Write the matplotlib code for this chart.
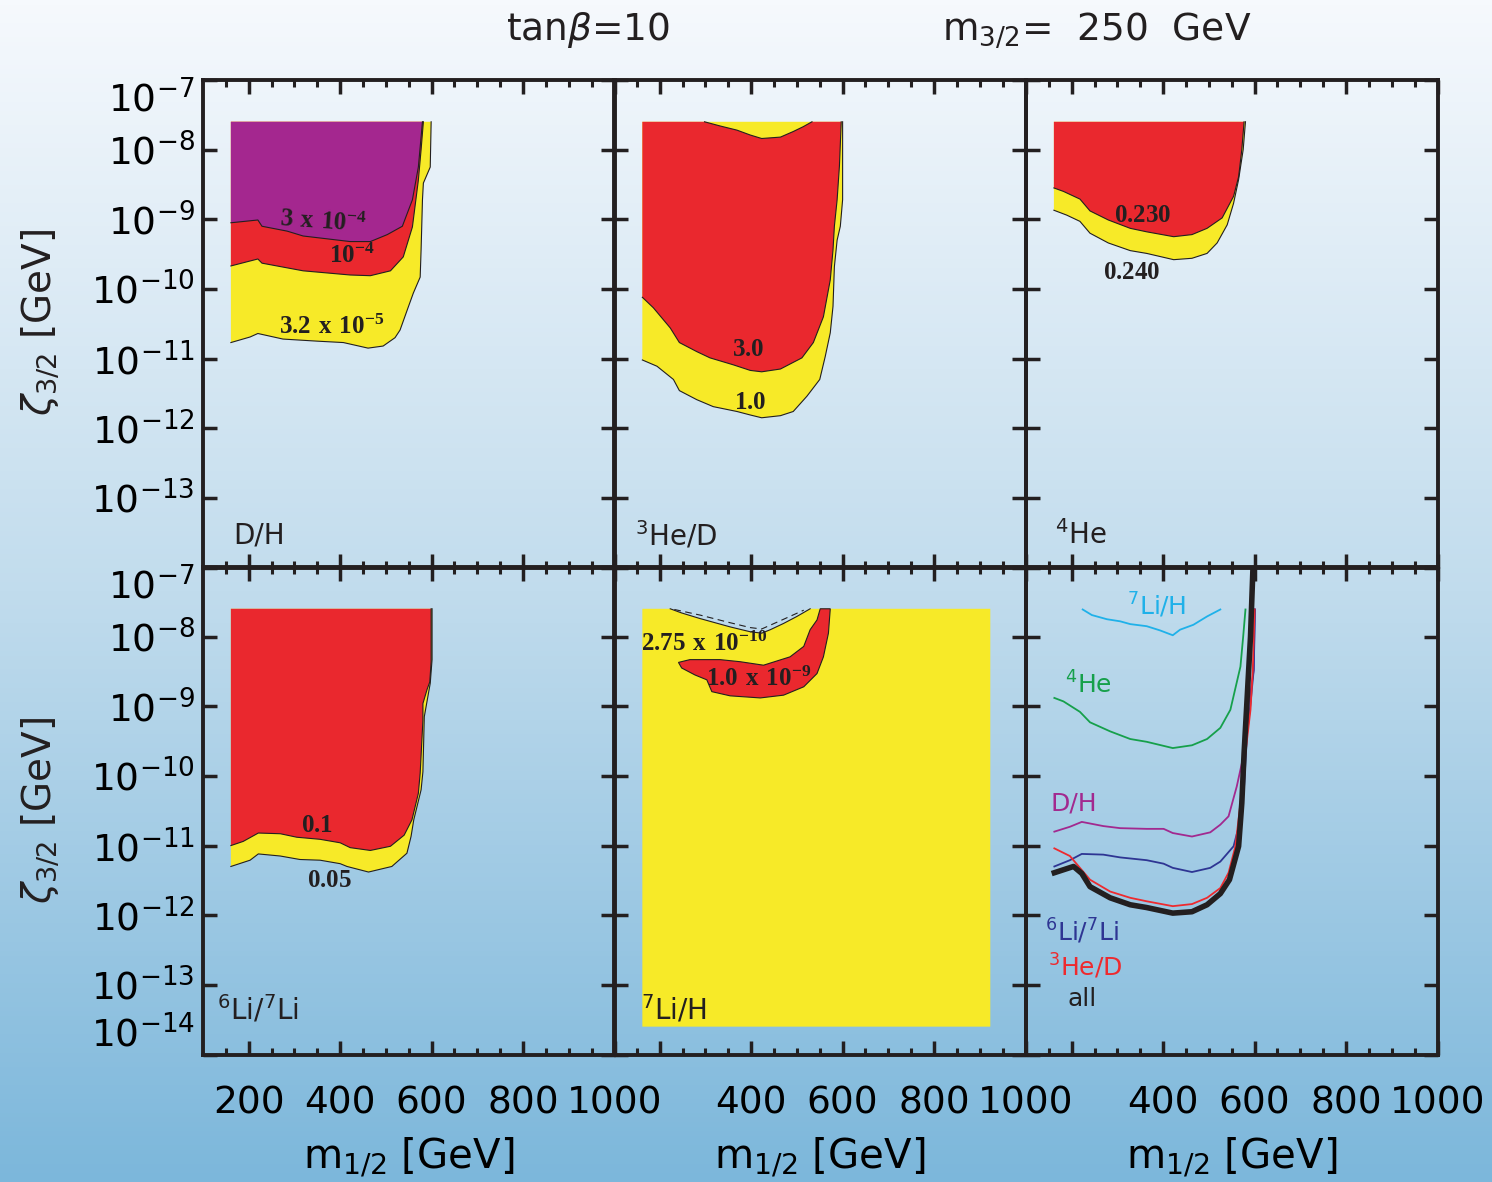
import numpy as np
import matplotlib.pyplot as plt
from matplotlib.colors import LinearSegmentedColormap

plt.rcParams['font.family'] = 'DejaVu Sans'
plt.rcParams['mathtext.fontset'] = 'custom'
plt.rcParams['mathtext.rm'] = 'DejaVu Sans'
plt.rcParams['mathtext.it'] = 'DejaVu Sans:italic'
plt.rcParams['mathtext.bf'] = 'Liberation Serif:bold'

PURPLE = '#a4278f'
RED = '#ea282e'
YELLOW = '#f7ea28'
INK = '#231f20'

# top edge of the scanned grid (log10 zeta)
ZTOP = -7.6

# ---- D/H (top left): log10(zeta) of the contour, above which it is excluded
dh_purple_x = [161, 220, 229, 284, 319, 422, 466, 503, 536, 558, 571, 580]
dh_purple_lz = [-9.05, -9.01, -9.10, -9.17, -9.24, -9.32, -9.32, -9.22, -9.10, -8.72, -8.25, -7.6]
dh_red_x = [161, 220, 229, 319, 422, 466, 510, 538, 558, 571, 577, 582]
dh_red_lz = [-9.67, -9.57, -9.63, -9.74, -9.80, -9.81, -9.74, -9.54, -9.11, -8.44, -8.00, -7.6]
dh_yel_x = [161, 203, 220, 275, 350, 407, 461, 494, 520, 531, 549, 560, 575, 577, 580, 582, 597, 599]
dh_yel_lz = [-10.77, -10.69, -10.64, -10.72, -10.75, -10.77, -10.85, -10.82, -10.70, -10.59,
             -10.26, -10.06, -9.83, -9.44, -8.72, -8.48, -8.25, -7.6]

# ---- 3He/D (top middle)
he3_red_x = [162, 186, 223, 243, 281, 310, 361, 398, 423, 464, 511, 536, 558, 573, 579, 582, 588, 593, 597]
he3_red_lz = [-10.12, -10.27, -10.56, -10.77, -10.90, -10.99, -11.09, -11.17, -11.19, -11.15,
              -10.99, -10.77, -10.40, -9.87, -9.44, -9.10, -8.72, -8.24, -7.6]
he3_notch_x = [298, 332, 369, 398, 423, 464, 492, 514, 533]
he3_notch_lz = [-7.6, -7.66, -7.72, -7.79, -7.84, -7.82, -7.74, -7.67, -7.6]
he3_yel_x = [162, 194, 230, 243, 281, 317, 369, 398, 423, 464, 492, 522, 550, 562, 573, 579, 582, 588,
             595, 600, 600]
he3_yel_lz = [-11.02, -11.11, -11.30, -11.46, -11.59, -11.69, -11.76, -11.81, -11.85, -11.82, -11.76,
              -11.54, -11.30, -10.97, -10.63, -10.25, -9.68, -9.30, -9.10, -8.72, -7.6]

# ---- 4He (top right)
he4_red_x = [161, 182, 218, 240, 280, 328, 364, 423, 463, 496, 529, 554, 565, 572, 577]
he4_red_lz = [-8.55, -8.60, -8.71, -8.88, -9.01, -9.13, -9.18, -9.25, -9.22, -9.13, -8.98, -8.67,
              -8.39, -8.00, -7.6]
he4_yel_x = [161, 189, 218, 240, 280, 328, 364, 423, 463, 496, 518, 540, 554, 565, 575, 580]
he4_yel_lz = [-8.87, -8.94, -9.03, -9.20, -9.34, -9.45, -9.49, -9.58, -9.56, -9.49, -9.34, -9.08,
              -8.77, -8.43, -8.00, -7.6]

# ---- 6Li/7Li (bottom left)
li6_red_x = [161, 188, 221, 269, 305, 356, 400, 422, 466, 510, 540, 557, 571, 575, 581, 581, 590, 596, 599, 599]
li6_red_lz = [-11.00, -10.94, -10.82, -10.83, -10.88, -10.91, -10.96, -11.03, -11.07, -11.01, -10.85,
              -10.63, -10.25, -9.96, -9.20, -8.96, -8.76, -8.65, -8.36, -7.6]
li6_yel_x = [161, 203, 221, 269, 312, 356, 400, 415, 462, 513, 546, 555, 561, 577, 581, 584, 597, 601, 601]
li6_yel_lz = [-11.30, -11.21, -11.12, -11.15, -11.20, -11.21, -11.26, -11.30, -11.38, -11.30, -11.11,
              -10.87, -10.63, -10.20, -9.94, -9.15, -8.67, -8.33, -7.6]

# ---- 7Li/H (bottom middle)
li7_grid_x = [162, 923]
li7_grid_lz = [-13.6, ZTOP]
li7_notch_x = [223, 248, 288, 310, 354, 398, 423, 442, 471, 500, 529]
li7_notch_lz = [-7.6, -7.66, -7.74, -7.78, -7.86, -7.93, -7.95, -7.90, -7.81, -7.71, -7.6]
li7_dash_x = [232, 288, 354, 398, 423, 471, 515]
li7_dash_lz = [-7.61, -7.69, -7.80, -7.87, -7.89, -7.75, -7.62]
li7_red_x = [551, 544, 529, 515, 485, 427, 376, 332, 266, 241, 248, 277, 303, 314, 354, 420, 471, 515,
             544, 558, 569, 573]
li7_red_lz = [-7.6, -7.76, -7.90, -8.14, -8.29, -8.41, -8.36, -8.33, -8.33, -8.37, -8.45, -8.55, -8.62,
              -8.79, -8.85, -8.88, -8.84, -8.72, -8.53, -8.29, -7.95, -7.6]

# ---- summary (bottom right): limits from each element
sum_li7h_x = [224, 244, 277, 306, 328, 364, 393, 421, 437, 466, 496, 525]
sum_li7h_lz = [-7.61, -7.69, -7.75, -7.78, -7.82, -7.85, -7.91, -7.98, -7.90, -7.83, -7.71, -7.61]
sum_he4_x = [162, 182, 218, 240, 284, 328, 364, 421, 463, 496, 525, 547, 569, 575, 580]
sum_he4_lz = [-8.88, -8.93, -9.08, -9.23, -9.36, -9.47, -9.51, -9.60, -9.56, -9.47, -9.31, -9.05,
              -8.43, -8.00, -7.61]
sum_dh_x = [162, 196, 222, 269, 306, 364, 401, 421, 463, 503, 525, 543, 561, 569, 577, 582, 598, 600]
sum_dh_lz = [-10.80, -10.73, -10.66, -10.72, -10.75, -10.76, -10.76, -10.82, -10.87, -10.81, -10.70,
             -10.58, -10.15, -9.91, -9.67, -9.20, -8.48, -7.61]
sum_li6_x = [162, 196, 222, 269, 306, 364, 401, 421, 463, 503, 525, 554, 569, 577, 583, 591, 598, 601]
sum_li6_lz = [-11.30, -11.21, -11.12, -11.13, -11.17, -11.21, -11.26, -11.32, -11.38, -11.32, -11.23,
              -11.01, -10.63, -10.15, -9.43, -8.96, -8.48, -7.61]
sum_he3_x = [162, 196, 240, 284, 328, 364, 421, 463, 496, 525, 543, 558, 569, 580, 591, 596, 600]
sum_he3_lz = [-11.04, -11.15, -11.49, -11.66, -11.75, -11.80, -11.87, -11.84, -11.75, -11.61, -11.39,
              -11.01, -10.39, -9.67, -9.05, -8.48, -7.61]
sum_all_x = [162, 204, 222, 240, 284, 328, 364, 421, 463, 496, 525, 545, 565, 572, 577, 583, 591, 597]
sum_all_lz = [-11.39, -11.30, -11.40, -11.59, -11.75, -11.85, -11.89, -11.97, -11.95, -11.85, -11.69,
              -11.49, -11.01, -10.39, -9.67, -8.96, -8.00, -6.9]

xticks = [200, 400, 600, 800, 1000]
yexps = [-7, -8, -9, -10, -11, -12, -13, -14]

W, H = 1492, 1182
fig = plt.figure(figsize=(W / 100, H / 100), dpi=100)

# background gradient
bg = fig.add_axes([0, 0, 1, 1], zorder=-10)
cmap = LinearSegmentedColormap.from_list('bg', ['#f6f9fd', '#c1dced', '#7cb7db'])
bg.imshow(np.linspace(0, 1, 256)[:, None], aspect='auto', cmap=cmap, extent=[0, 1, 0, 1])
bg.set_axis_off()


def P(v):
    return 10 ** np.asarray(v, dtype=float)


def region(ax, xs, lz, color):
    # lower contour, closed along the top edge of the scan
    ax.fill(list(xs) + [xs[0]], P(list(lz) + [ZTOP]), color=color, lw=0, zorder=2)
    ax.plot(xs, P(lz), color=INK, lw=0.8, zorder=3)


def lab(ax, x, lz, s, rot=0):
    ax.text(x, P(lz), s, fontsize=18, ha='center', va='center', color=INK, rotation=rot, zorder=5)


x0s = [203, 614, 1026]
y0s = [80, 567]
axes = []
for r in range(2):
    for c in range(3):
        ax = fig.add_axes([x0s[c] / W, 1 - (y0s[r] + 487.5) / H, 411.5 / W, 487.5 / H])
        ax.patch.set_alpha(0)
        ax.set_xlim(100, 1000)
        ax.set_yscale('log')
        ax.set_ylim(1e-14, 1e-7)
        ax.set_xticks(xticks)
        ax.set_xticks(np.arange(150, 1000, 50), minor=True)
        ax.set_yticks(P(yexps))
        ax.yaxis.set_minor_locator(plt.NullLocator())
        ax.tick_params(which='both', direction='in', top=True, right=True, color=INK, width=2.5)
        ax.tick_params(which='major', length=10, labelsize=27, pad=6)
        ax.tick_params(axis='x', which='major', pad=22)
        ax.tick_params(which='minor', length=5, width=2.2)
        for s in ax.spines.values():
            s.set_linewidth(2.8)
            s.set_color(INK)
        if r == 1:
            ax.set_xticklabels([str(t) if (c == 0 or t > 200) else '' for t in xticks])
            ax.set_xlabel(r'm$_{1/2}$ [GeV]', fontsize=29, labelpad=10)
        else:
            ax.set_xticklabels([])
        if c == 0:
            labels = [r'$10^{%d}$' % e for e in yexps]
            if r == 0:
                labels[-1] = ''
            ax.set_yticklabels(labels)
            tl = ax.get_yticklabels()
            tl[0].set_va('top')
            tl[-1].set_va('bottom')
        else:
            ax.set_yticklabels([])
        axes.append(ax)

a_dh, a_he3, a_he4, a_li6, a_li7, a_sum = axes

# D/H
region(a_dh, dh_yel_x, dh_yel_lz, YELLOW)
region(a_dh, dh_red_x, dh_red_lz, RED)
region(a_dh, dh_purple_x, dh_purple_lz, PURPLE)
lab(a_dh, 363, -9.04, r'$\mathbf{3\ x\ 10^{-4}}$', rot=-4)
lab(a_dh, 425, -9.52, r'$\mathbf{10^{-4}}$')
lab(a_dh, 382, -10.55, r'$\mathbf{3.2\ x\ 10^{-5}}$')

# 3He/D
region(a_he3, he3_yel_x, he3_yel_lz, YELLOW)
rx = he3_red_x + he3_notch_x[::-1] + [he3_red_x[0]]
rz = he3_red_lz + he3_notch_lz[::-1] + [ZTOP]
a_he3.fill(rx, P(rz), color=RED, lw=0, zorder=2)
a_he3.plot(he3_red_x, P(he3_red_lz), color=INK, lw=0.8, zorder=3)
a_he3.plot(he3_notch_x, P(he3_notch_lz), color=INK, lw=0.8, zorder=3)
lab(a_he3, 394, -10.86, r'$\mathbf{3.0}$')
lab(a_he3, 398, -11.63, r'$\mathbf{1.0}$')

# 4He
region(a_he4, he4_yel_x, he4_yel_lz, YELLOW)
region(a_he4, he4_red_x, he4_red_lz, RED)
lab(a_he4, 356, -8.94, r'$\mathbf{0.230}$')
lab(a_he4, 331, -9.75, r'$\mathbf{0.240}$')

# 6Li/7Li
region(a_li6, li6_yel_x, li6_yel_lz, YELLOW)
region(a_li6, li6_red_x, li6_red_lz, RED)
lab(a_li6, 349, -10.70, r'$\mathbf{0.1}$')
lab(a_li6, 377, -11.50, r'$\mathbf{0.05}$')

# 7Li/H
gx0, gx1 = li7_grid_x
gz0, gz1 = li7_grid_lz
yx = [gx0, gx1, gx1] + li7_notch_x[::-1] + [gx0]
yz = [gz0, gz0, gz1] + li7_notch_lz[::-1] + [gz1]
a_li7.fill(yx, P(yz), color=YELLOW, lw=0, zorder=2)
a_li7.plot(li7_notch_x, P(li7_notch_lz), color=INK, lw=0.8, zorder=3)
a_li7.plot(li7_dash_x, P(li7_dash_lz), color=INK, lw=0.8, ls=(0, (6, 4)), zorder=3)
a_li7.fill(li7_red_x, P(li7_red_lz), facecolor=RED, edgecolor=INK, lw=0.8, zorder=3)
a_li7.text(160, P(-8.1), r'$\mathbf{2.75\ x\ 10^{-10}}$', fontsize=18, ha='left', va='center',
           color=INK, zorder=5)
lab(a_li7, 416, -8.6, r'$\mathbf{1.0\ x\ 10^{-9}}$')

# summary
a_sum.plot(sum_li7h_x, P(sum_li7h_lz), color='#1fb1e9', lw=1.3, zorder=3)
a_sum.plot(sum_he4_x, P(sum_he4_lz), color='#16a04b', lw=1.3, zorder=3)
a_sum.plot(sum_dh_x, P(sum_dh_lz), color='#a2298f', lw=1.3, zorder=3)
a_sum.plot(sum_li6_x, P(sum_li6_lz), color='#2e3593', lw=1.3, zorder=3)
a_sum.plot(sum_he3_x, P(sum_he3_lz), color='#ee2a2e', lw=1.3, zorder=3)
a_sum.plot(sum_all_x, P(sum_all_lz), color=INK, lw=4, zorder=4)
sk = dict(fontsize=18, ha='center', va='center')
a_sum.text(386, P(-7.55), r'$^{7}$Li/H', color='#1fb1e9', **sk)
a_sum.text(236, P(-8.69), r'$^{4}$He', color='#16a04b', **sk)
a_sum.text(204, P(-10.40), 'D/H', color='#a2298f', **sk)
a_sum.text(222, P(-12.23), r'$^{6}$Li/$^{7}$Li', color='#2e3593', **sk)
a_sum.text(229, P(-12.73), r'$^{3}$He/D', color='#ee2a2e', **sk)
a_sum.text(222, P(-13.21), 'all', color=INK, **sk)

# panel names
pk = dict(fontsize=20, ha='left', va='center', color=INK)
a_dh.text(0.073, 0.066, 'D/H', transform=a_dh.transAxes, **pk)
a_he3.text(0.052, 0.066, r'$^{3}$He/D', transform=a_he3.transAxes, **pk)
a_he4.text(0.070, 0.066, r'$^{4}$He', transform=a_he4.transAxes, **pk)
a_li6.text(0.035, 0.092, r'$^{6}$Li/$^{7}$Li', transform=a_li6.transAxes, **pk)
a_li7.text(0.066, 0.092, r'$^{7}$Li/H', transform=a_li7.transAxes, zorder=6, **pk)

# titles and y labels
fig.text(588 / W, 1 - 30 / H, r'tan$\beta$=10', fontsize=27, ha='center', va='center', color=INK)
fig.text(1097 / W, 1 - 30 / H, r'm$_{3/2}$=  250  GeV', fontsize=27, ha='center', va='center', color=INK)
fig.text(40 / W, 1 - 322 / H, r'$\zeta_{3/2}$ [GeV]', fontsize=28, rotation=90, ha='center', va='center', color=INK)
fig.text(40 / W, 1 - 810 / H, r'$\zeta_{3/2}$ [GeV]', fontsize=28, rotation=90, ha='center', va='center', color=INK)

fig.savefig('out.png', dpi=100)
